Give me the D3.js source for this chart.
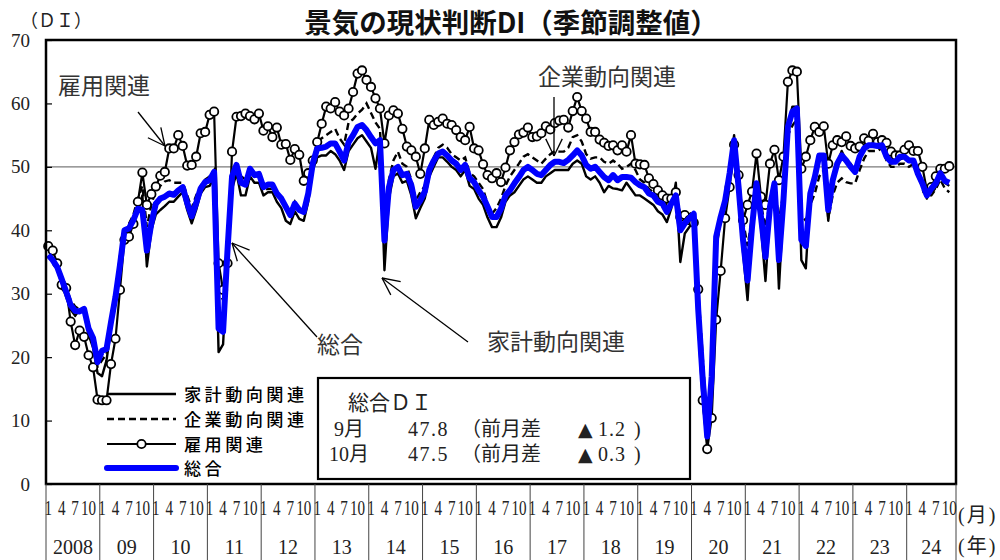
<!DOCTYPE html>
<html><head><meta charset="utf-8">
<script src="https://cdn.jsdelivr.net/npm/d3@7"></script>
<style>
body{margin:0;background:#fff;}
svg{display:block;}
</style></head><body>
<svg id="c" width="1000" height="560"></svg>
<script>
// ---- data ----
const years = ["2008","09","10","11","12","13","14","15","16","17","18","19","20","21","22","23","24"];
const monthTicks = ["1","4","7","10"];
const yTicks = [0,10,20,30,40,50,60,70];
const seriesNames = ["家計動向関連","企業動向関連","雇用関連","総合"];

const kakei = [
36.0,35.0,34.0,31.5,29.5,27.5,26.5,27.5,27.0,23.5,21.5,17.5,
17.0,19.5,24.5,30.0,36.0,39.5,39.8,41.0,43.0,45.5,34.3,40.0,
42.5,43.2,43.8,44.5,44.5,45.3,46.0,43.2,41.1,43.2,45.8,46.8,
47.0,48.3,20.8,22.0,35.5,46.5,49.0,45.5,45.5,48.5,47.5,47.5,
45.5,46.0,46.0,44.5,43.5,41.5,41.0,43.0,41.8,41.5,44.5,49.5,
51.5,51.8,51.8,52.5,52.0,51.0,49.5,52.5,53.5,54.5,55.0,54.0,
53.0,49.7,54.5,33.7,45.0,48.5,49.0,47.5,47.8,45.5,41.9,43.5,
45.0,48.5,50.0,51.5,51.5,50.8,50.0,49.5,48.5,49.5,47.0,46.5,
45.0,44.0,42.0,40.5,40.5,42.0,44.5,45.5,46.0,47.0,48.0,48.5,
48.0,47.5,47.5,48.5,49.0,49.5,49.5,49.5,49.5,50.5,51.0,50.5,
48.5,48.0,48.5,47.5,46.0,47.0,46.6,46.5,46.3,47.5,46.5,45.5,
45.5,45.0,44.5,44.0,43.0,42.5,41.3,43.5,47.5,35.0,39.5,40.5,
41.5,25.0,13.0,6.5,16.0,38.0,41.5,44.0,49.5,55.0,46.0,36.5,
29.0,40.0,47.5,40.5,32.0,43.0,47.5,30.8,44.0,56.5,59.5,59.5,
35.3,34.0,46.0,48.5,52.0,51.5,41.5,48.0,50.5,52.5,51.0,50.5,
49.2,52.0,53.5,54.0,54.0,53.5,53.8,51.5,50.5,50.7,51.8,52.0,
50.8,51.0,48.5,47.0,45.0,46.5,47.5,49.0,47.5,47.0];

const kigyo = [
36.0,35.5,34.5,32.5,31.0,29.0,28.0,27.5,27.5,25.0,22.5,18.5,
19.5,20.5,25.0,29.0,33.5,39.5,41.0,42.5,45.0,47.0,40.5,44.0,
46.4,47.0,47.7,47.9,47.5,47.5,47.5,45.5,43.5,45.5,47.0,48.0,
48.5,49.5,30.5,29.0,37.0,49.0,50.5,48.5,48.0,49.5,48.5,48.5,
46.5,46.5,46.5,45.5,45.0,44.0,43.0,44.5,43.0,43.0,46.0,50.5,
54.0,54.5,55.0,55.5,56.0,54.5,53.5,57.0,57.5,58.4,59.0,60.0,
58.5,57.0,56.0,42.0,48.0,51.0,52.4,50.5,50.0,48.0,44.7,46.0,
47.0,50.0,51.5,53.0,53.5,53.0,52.0,51.5,51.0,51.5,49.0,48.5,
47.5,46.5,44.2,42.6,43.5,45.0,47.0,48.5,49.5,50.5,51.6,52.0,
51.5,51.0,50.5,51.3,52.0,52.5,52.4,52.4,53.0,54.7,55.0,54.0,
52.0,51.3,51.5,51.5,50.8,50.5,51.0,50.5,49.7,50.0,50.5,49.5,
48.0,47.5,46.5,46.0,45.0,45.0,44.0,44.5,45.5,42.5,42.5,42.5,
43.0,30.5,20.0,9.5,15.5,37.0,41.5,44.5,47.5,52.0,47.5,41.5,
37.5,42.0,47.0,44.0,40.5,44.5,47.5,41.5,46.0,55.0,56.5,57.5,
42.5,41.5,44.0,45.8,48.5,49.5,41.9,45.5,47.5,48.2,47.6,47.4,
47.4,49.5,51.3,52.5,52.5,52.5,53.0,51.0,50.0,50.0,50.5,50.5,
50.0,50.5,48.5,47.0,45.5,45.5,46.5,48.0,46.6,46.0];

const koyo = [
37.5,36.8,34.8,31.4,30.9,25.6,21.9,24.2,23.2,20.3,18.4,13.3,
13.2,13.2,18.9,22.9,30.6,38.5,39.0,41.0,44.5,49.1,44.0,45.7,
46.9,48.6,49.2,52.9,52.9,55.0,53.3,50.2,50.3,51.6,55.3,55.5,
58.2,58.7,34.8,30.6,34.8,52.4,57.9,58.0,58.4,58.0,57.5,58.4,
55.7,56.4,54.7,56.2,53.5,53.6,51.1,52.8,51.9,47.8,49.0,51.0,
53.9,56.8,59.5,59.2,60.2,58.7,58.1,59.2,61.8,64.7,65.2,63.7,
62.6,60.8,59.2,53.7,58.1,58.9,58.4,56.0,53.2,52.6,51.6,48.9,
52.9,57.4,56.6,57.1,57.6,56.8,56.6,55.8,54.7,54.2,56.3,52.9,
52.6,50.4,48.7,48.2,49.0,47.6,49.9,52.6,53.9,55.1,55.4,56.2,
54.7,54.8,55.3,56.4,55.9,56.9,57.3,57.4,56.2,58.8,61.0,58.8,
57.6,55.5,55.5,54.3,53.8,53.3,53.4,52.6,53.4,52.4,55.0,50.5,
50.4,50.3,48.2,47.3,46.3,45.5,45.0,45.0,46.0,42.1,42.4,41.6,
41.2,30.7,13.2,5.5,10.4,25.9,33.6,41.9,46.8,53.5,48.7,41.6,
44.0,46.1,52.1,45.3,44.0,50.5,52.7,47.9,51.6,63.4,65.2,65.0,
49.7,51.6,54.2,56.3,55.5,56.4,50.5,53.4,54.2,53.9,54.8,53.3,
52.9,53.2,54.5,54.1,55.2,53.9,54.2,53.8,52.4,51.8,51.8,52.7,
53.4,52.5,52.5,50.0,46.3,46.8,48.5,49.7,49.7,50.1];

const sogo = [
36.1,35.3,34.2,32.3,30.3,28.2,27.3,27.2,27.6,24.5,23.0,19.2,
21.0,21.3,25.5,29.5,34.5,40.0,40.3,41.6,43.4,43.2,36.8,41.1,
44.2,45.0,45.3,45.8,45.6,46.3,46.8,44.3,42.2,44.3,46.6,47.6,
47.9,49.2,24.5,24.0,37.0,48.5,50.3,47.5,47.2,49.7,48.7,48.9,
46.8,47.2,47.2,45.8,45.0,43.7,42.4,44.2,43.2,42.9,45.8,50.5,
52.9,53.0,53.2,53.7,53.7,52.4,51.0,53.9,55.0,56.3,56.6,55.8,
54.7,53.7,54.2,38.4,46.8,49.5,50.0,48.7,48.9,47.1,43.7,44.7,
46.1,49.5,51.0,52.1,52.4,51.8,51.0,50.5,49.5,50.3,48.2,47.6,
46.3,45.3,43.7,42.1,42.1,43.4,45.5,46.3,47.4,48.4,49.5,50.0,
49.5,48.9,48.7,49.5,50.3,50.8,50.8,50.6,51.1,51.8,52.6,51.8,
50.3,49.7,50.0,49.2,48.4,47.9,48.7,47.9,48.4,48.4,48.3,47.6,
47.1,46.8,45.8,45.5,44.5,44.2,42.9,44.2,45.5,40.0,41.1,41.9,
42.6,27.5,16.5,7.5,17.0,39.0,42.1,44.7,49.0,54.2,46.8,38.4,
32.1,40.5,47.4,42.1,35.8,43.7,47.4,35.3,44.7,56.3,58.7,59.2,
38.5,37.5,45.8,48.4,51.8,51.8,43.2,47.9,50.5,51.8,51.0,50.0,
49.2,51.6,52.9,53.4,53.4,53.3,53.4,51.6,50.8,50.8,51.6,51.6,
51.0,51.0,48.9,47.4,45.5,46.6,47.4,49.0,47.8,47.5];

const infoRows = [
  {m:"9月",  v:"47.8", d:"1.2"},
  {m:"10月", v:"47.5", d:"0.3"}
];

// ---- categories (month slots on the axis) ----
const categories = [];
years.forEach(y => { for (let m = 1; m <= 12; m++) categories.push(y + "-" + m); });
const slots = categories.slice(0, 203);

// ---- layout ----
const L = 46, R = 956, T = 40, B = 484;
const svg = d3.select("#c");
const serif = "'Liberation Serif','DejaVu Serif','Noto Sans CJK JP',serif";
const jp = "'Noto Sans CJK JP','Noto Sans',sans-serif";

const x = d3.scaleBand().domain(slots).range([L, R]).paddingInner(0).paddingOuter(0);
const bw = x.bandwidth();
const xc = i => x(slots[i]) + bw / 2;
const y = d3.scaleLinear().domain([0, 70]).range([B, T]);

// gridline at 50
svg.append("line").attr("x1", L).attr("x2", R).attr("y1", y(50)).attr("y2", y(50))
  .attr("stroke", "#7a7a7a").attr("stroke-width", 1.2);

// y axis
const yAxis = d3.axisLeft(y).tickValues(yTicks).tickSize(-6).tickPadding(16).tickFormat(d3.format("d"));
const ga = svg.append("g").attr("transform", `translate(${L},0)`).call(yAxis);
ga.select(".domain").remove();
ga.selectAll(".tick line").attr("stroke", "#000").attr("stroke-width", 1.2);
ga.selectAll(".tick text").attr("font-family", serif).attr("font-size", 19).attr("fill", "#222");

svg.append("text").attr("x", 20).attr("y", 27).attr("font-family", jp).attr("font-size", 18)
  .attr("fill", "#222").text("（ＤＩ）");

// title
svg.append("text").attr("x", 511).attr("y", 33).attr("text-anchor", "middle")
  .attr("font-family", jp).attr("font-weight", "bold").attr("font-size", 27.5).attr("fill", "#111")
  .text("景気の現状判断DI（季節調整値）");

// series
const line = d3.line().x((d, i) => xc(i)).y(d => y(d));
const gp = svg.append("g");
gp.append("path").datum(kakei).attr("d", line).attr("fill", "none")
  .attr("stroke", "#000").attr("stroke-width", 2.4).attr("stroke-linejoin", "round");
gp.append("path").datum(kigyo).attr("d", line).attr("fill", "none")
  .attr("stroke", "#000").attr("stroke-width", 2.4).attr("stroke-dasharray", "7,4");
gp.append("path").datum(koyo).attr("d", line).attr("fill", "none")
  .attr("stroke", "#000").attr("stroke-width", 2.2).attr("stroke-linejoin", "round");
gp.selectAll("circle.k").data(koyo).join("circle").attr("class", "k")
  .attr("cx", (d, i) => xc(i)).attr("cy", d => y(d)).attr("r", 4.2)
  .attr("fill", "#fff").attr("stroke", "#000").attr("stroke-width", 1.8);
gp.append("path").datum(sogo).attr("d", line).attr("fill", "none")
  .attr("stroke", "#0000ff").attr("stroke-width", 6).attr("stroke-linejoin", "round");

// plot frame
svg.append("rect").attr("x", L).attr("y", T).attr("width", R - L).attr("height", B - T)
  .attr("fill", "none").attr("stroke", "#000").attr("stroke-width", 2.5);

// x axis: year dividers, month labels, year labels
const yearStarts = years.map((yy, k) => x(slots[k * 12]));
const gx = svg.append("g");
yearStarts.concat([R]).forEach(px => {
  gx.append("line").attr("x1", px).attr("x2", px).attr("y1", B).attr("y2", 560)
    .attr("stroke", "#444").attr("stroke-width", 1);
});
years.forEach((yy, k) => {
  monthTicks.forEach(mt => {
    const idx = k * 12 + (+mt) - 1;
    if (idx >= slots.length) return;
    gx.append("text").attr("transform", `translate(${xc(idx)},515) scale(0.72,1)`)
      .attr("text-anchor", "middle").attr("font-family", serif).attr("font-size", 21)
      .attr("fill", "#222").text(mt);
  });
  const s = yearStarts[k];
  const e = k + 1 < years.length ? yearStarts[k + 1] : R;
  gx.append("text").attr("x", (s + e) / 2).attr("y", 554).attr("text-anchor", "middle")
    .attr("font-family", serif).attr("font-size", 20).attr("fill", "#222").text(yy);
});
svg.append("text").attr("x", 958).attr("y", 522).attr("font-family", serif).attr("font-size", 20)
  .attr("letter-spacing", 2).attr("fill", "#222").text("(月)");
svg.append("text").attr("x", 958).attr("y", 553).attr("font-family", serif).attr("font-size", 20)
  .attr("letter-spacing", 2).attr("fill", "#222").text("(年)");

// legend
const lg = svg.append("g");
const lx1 = 107, lx2 = 176, ltx = 184, lys = [394, 419, 444, 468];
lg.append("line").attr("x1", lx1).attr("x2", lx2).attr("y1", lys[0]).attr("y2", lys[0])
  .attr("stroke", "#000").attr("stroke-width", 2.4);
lg.append("line").attr("x1", lx1).attr("x2", lx2).attr("y1", lys[1]).attr("y2", lys[1])
  .attr("stroke", "#000").attr("stroke-width", 2.4).attr("stroke-dasharray", "7,4");
lg.append("line").attr("x1", lx1).attr("x2", lx2).attr("y1", lys[2]).attr("y2", lys[2])
  .attr("stroke", "#000").attr("stroke-width", 2.2);
lg.append("circle").attr("cx", (lx1 + lx2) / 2).attr("cy", lys[2]).attr("r", 4.2)
  .attr("fill", "#fff").attr("stroke", "#000").attr("stroke-width", 1.8);
lg.append("line").attr("x1", lx1).attr("x2", lx2).attr("y1", lys[3]).attr("y2", lys[3])
  .attr("stroke", "#0000ff").attr("stroke-width", 6).attr("stroke-linecap", "round");
seriesNames.forEach((n, k) => {
  lg.append("text").attr("x", ltx).attr("y", lys[k] + 6.5).attr("font-family", jp)
    .attr("font-size", 17.2).attr("letter-spacing", 3.4).attr("font-weight", 500)
    .attr("fill", "#000").text(n);
});

// info box
const ib = svg.append("g");
ib.append("rect").attr("x", 318).attr("y", 378).attr("width", 372).attr("height", 101)
  .attr("fill", "#fff").attr("stroke", "#000").attr("stroke-width", 2.2);
ib.append("text").attr("x", 348).attr("y", 410).attr("font-family", serif).attr("font-size", 21)
  .attr("fill", "#222").text("総合ＤＩ");
infoRows.forEach((r, k) => {
  const yy = 436 + k * 25;
  const t = ib.append("text").attr("y", yy).attr("font-family", serif)
    .attr("font-size", 20).attr("fill", "#222");
  t.append("tspan").attr("x", 329 + (k === 0 ? 5 : 0)).text(r.m);
  t.append("tspan").attr("x", 408).attr("letter-spacing", 1.5).text(r.v);
  t.append("tspan").attr("x", 461).text("（前月差");
  t.append("tspan").attr("x", 578).attr("font-family", "'DejaVu Sans',sans-serif").attr("font-size", 19).text("▲");
  t.append("tspan").attr("x", 598).attr("letter-spacing", 1).text(r.d);
  t.append("tspan").attr("x", 634).text(")");
});

// annotations with arrows
const ann = [
  {t: "雇用関連", tx: 58, ty: 94, x1: 138, y1: 112, x2: 165, y2: 146},
  {t: "企業動向関連", tx: 538, ty: 85, x1: 554, y1: 97, x2: 554, y2: 156},
  {t: "総合", tx: 317, ty: 353, x1: 317, y1: 337, x2: 232, y2: 243},
  {t: "家計動向関連", tx: 487, ty: 350, x1: 468, y1: 342, x2: 382, y2: 278}
];
const ag = svg.append("g");
ann.forEach(a => {
  ag.append("text").attr("x", a.tx).attr("y", a.ty).attr("font-family", jp).attr("font-size", 23)
    .attr("fill", "#333").text(a.t);
  ag.append("line").attr("x1", a.x1).attr("y1", a.y1).attr("x2", a.x2).attr("y2", a.y2)
    .attr("stroke", "#000").attr("stroke-width", 1.3);
  const ang = Math.atan2(a.y2 - a.y1, a.x2 - a.x1);
  [0.45, -0.45].forEach(da => {
    ag.append("line").attr("x1", a.x2).attr("y1", a.y2)
      .attr("x2", a.x2 - 19 * Math.cos(ang + da)).attr("y2", a.y2 - 19 * Math.sin(ang + da))
      .attr("stroke", "#000").attr("stroke-width", 1.3);
  });
});
</script>
</body></html>
